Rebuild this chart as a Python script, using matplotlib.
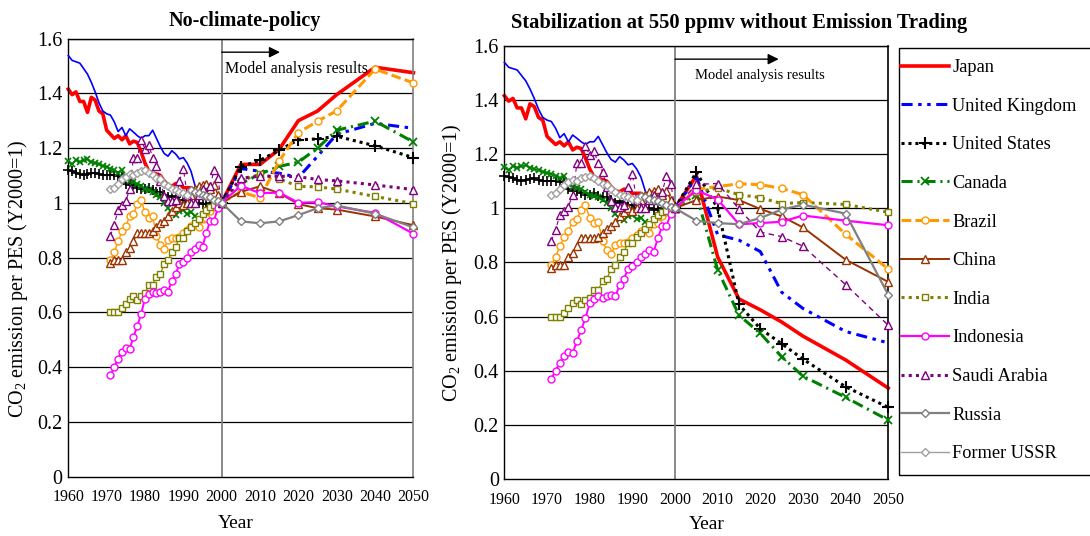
import matplotlib
matplotlib.use("Agg")
import matplotlib.pyplot as plt
from matplotlib.lines import Line2D
from matplotlib.patches import Rectangle

plt.rcParams['font.family'] = ['Liberation Serif', 'DejaVu Serif']
plt.rcParams['mathtext.fontset'] = 'custom'
plt.rcParams['mathtext.rm'] = 'Liberation Serif'
plt.rcParams['lines.scale_dashes'] = False

# ---------------- data ----------------
hist_years_long = list(range(1960, 2001))
hist_years_short = list(range(1971, 2001))
ussr_years = list(range(1971, 1992))
russia_years = list(range(1992, 2001))
proj_years = [2000, 2005, 2010, 2015, 2020, 2025, 2030, 2040, 2050]

countries = ["Japan", "United Kingdom", "United States", "Canada", "Brazil",
             "China", "India", "Indonesia", "Saudi Arabia", "Russia", "Former USSR"]

japan_hist = [1.415, 1.395, 1.405, 1.37, 1.37, 1.33, 1.385, 1.375, 1.335, 1.325,
              1.265, 1.25, 1.235, 1.245, 1.23, 1.245, 1.215, 1.225, 1.22, 1.185,
              1.145, 1.115, 1.11, 1.105, 1.10, 1.08, 1.065, 1.06, 1.07, 1.07,
              1.055, 1.055, 1.055, 1.045, 1.04, 1.035, 1.03, 1.02, 1.01, 1.005, 1.0]
uk_hist = [1.538, 1.52, 1.515, 1.51, 1.49, 1.47, 1.44, 1.405, 1.365, 1.335,
           1.325, 1.32, 1.295, 1.26, 1.275, 1.245, 1.27, 1.258, 1.245, 1.235,
           1.245, 1.245, 1.265, 1.235, 1.205, 1.18, 1.17, 1.19, 1.178, 1.16,
           1.165, 1.145, 1.115, 1.065, 1.025, 1.02, 1.015, 1.01, 1.0, 0.995, 1.0]
us_hist = [1.12, 1.115, 1.11, 1.105, 1.10, 1.105, 1.108, 1.11, 1.105, 1.10,
           1.10, 1.10, 1.10, 1.098, 1.095, 1.07, 1.065, 1.065, 1.055, 1.05,
           1.05, 1.055, 1.045, 1.04, 1.04, 1.03, 1.02, 1.025, 1.02, 1.01,
           1.01, 1.0, 1.0, 1.0, 1.0, 0.995, 0.995, 1.0, 1.0, 1.0, 1.0]
canada_hist = [1.152, 1.14, 1.155, 1.15, 1.155, 1.158, 1.15, 1.145, 1.14, 1.135,
               1.13, 1.125, 1.12, 1.11, 1.12, 1.09, 1.08, 1.075, 1.07, 1.06,
               1.05, 1.045, 1.04, 1.03, 1.02, 1.0, 0.98, 0.96, 0.955, 0.97,
               0.975, 0.96, 0.965, 0.95, 0.94, 0.955, 0.965, 0.975, 0.985, 0.995, 1.0]
brazil_hist = [0.79, 0.82, 0.86, 0.895, 0.915, 0.95, 0.96, 0.995, 1.01, 0.965,
               0.945, 0.95, 0.88, 0.845, 0.83, 0.865, 0.87, 0.87, 0.875, 0.89,
               0.90, 0.915, 0.92, 0.91, 0.94, 0.945, 0.97, 0.985, 0.99, 1.0]
china_hist = [0.78, 0.79, 0.79, 0.79, 0.82, 0.835, 0.86, 0.89, 0.89, 0.89,
              0.89, 0.895, 0.91, 0.925, 0.935, 0.95, 0.97, 0.985, 1.0, 0.99,
              1.0, 1.03, 1.05, 1.06, 1.065, 1.07, 1.05, 1.065, 1.03, 1.0]
india_hist = [0.6, 0.6, 0.6, 0.615, 0.63, 0.65, 0.66, 0.645, 0.66, 0.67,
              0.70, 0.70, 0.73, 0.74, 0.775, 0.79, 0.82, 0.84, 0.87, 0.87,
              0.895, 0.91, 0.925, 0.94, 0.96, 0.975, 0.985, 0.99, 1.0, 1.0]
indonesia_hist = [0.37, 0.40, 0.43, 0.455, 0.47, 0.465, 0.51, 0.55, 0.595, 0.65,
                  0.665, 0.675, 0.67, 0.675, 0.68, 0.675, 0.715, 0.74, 0.775, 0.785,
                  0.80, 0.82, 0.83, 0.845, 0.84, 0.89, 0.935, 0.935, 0.98, 1.0]
saudi_hist = [0.88, 0.92, 0.975, 0.99, 1.005, 1.05, 1.165, 1.165, 1.23, 1.195,
              1.21, 1.165, 1.135, 1.08, 1.025, 1.005, 1.005, 1.01, 1.08, 1.125,
              1.03, 1.0, 1.0, 1.03, 1.05, 1.03, 1.06, 1.12, 1.09, 1.0]
ussr_hist = [1.05, 1.055, 1.07, 1.085, 1.095, 1.105, 1.10, 1.11, 1.115, 1.12,
             1.11, 1.10, 1.09, 1.085, 1.07, 1.06, 1.05, 1.045, 1.04, 1.035, 1.03]
russia_hist = [1.045, 1.04, 1.035, 1.03, 1.025, 1.02, 1.01, 1.005, 1.0]

# model results, no climate policy
japan_ref = [1.0, 1.14, 1.14, 1.195, 1.30, 1.335, 1.395, 1.495, 1.475]
uk_ref = [1.0, 1.125, 1.115, 1.108, 1.092, 1.17, 1.25, 1.29, 1.272]
us_ref = [1.0, 1.132, 1.155, 1.192, 1.23, 1.233, 1.243, 1.208, 1.165]
canada_ref = [1.0, 1.07, 1.105, 1.133, 1.148, 1.2, 1.265, 1.298, 1.222]
brazil_ref = [1.0, 1.04, 1.018, 1.152, 1.256, 1.298, 1.336, 1.488, 1.438]
china_ref = [1.0, 1.04, 1.06, 1.035, 0.995, 0.98, 0.975, 0.95, 0.918]
india_ref = [1.0, 1.08, 1.105, 1.087, 1.06, 1.058, 1.05, 1.023, 0.997]
indonesia_ref = [1.0, 1.062, 1.035, 1.037, 1.0, 1.002, 0.987, 0.963, 0.887]
saudi_ref = [1.0, 1.09, 1.097, 1.097, 1.095, 1.085, 1.08, 1.065, 1.048]
russia_ref = [1.0, 0.932, 0.925, 0.932, 0.955, 0.98, 0.99, 0.96, 0.91]

# model results, 550 ppmv stabilization without emission trading
japan_550 = [1.0, 1.12, 0.82, 0.665, 0.625, 0.58, 0.528, 0.44, 0.336]
uk_550 = [1.0, 1.115, 0.902, 0.882, 0.84, 0.69, 0.63, 0.545, 0.503]
us_550 = [1.0, 1.133, 1.0, 0.645, 0.555, 0.50, 0.443, 0.341, 0.265]
canada_550 = [1.0, 1.05, 0.772, 0.605, 0.538, 0.452, 0.38, 0.302, 0.218]
brazil_550 = [1.0, 1.07, 1.08, 1.09, 1.087, 1.073, 1.05, 0.904, 0.775]
china_550 = [1.0, 1.03, 1.043, 1.03, 0.997, 0.97, 0.929, 0.81, 0.728]
india_550 = [1.0, 1.06, 1.074, 1.05, 1.039, 1.017, 1.021, 1.014, 0.985]
indonesia_550 = [1.0, 1.067, 1.032, 0.941, 0.945, 0.95, 0.973, 0.954, 0.937]
saudi_550 = [1.0, 1.088, 1.091, 0.997, 0.912, 0.895, 0.86, 0.718, 0.568]
russia_550 = [1.0, 0.954, 0.945, 0.941, 0.964, 0.995, 1.013, 0.98, 0.68]

yticks = [0, 0.2, 0.4, 0.6, 0.8, 1.0, 1.2, 1.4, 1.6]
ytick_labels = ["0", "0.2", "0.4", "0.6", "0.8", "1", "1.2", "1.4", "1.6"]
xticks = list(range(1960, 2051, 10))

# ---------------- styles ----------------
RED, BLUE, BLACK, GREEN = "#ff0000", "#0000ff", "#000000", "#008000"
ORANGE, BROWN, OLIVE = "#ff9900", "#993300", "#808000"
MAGENTA, PURPLE, GRAY, LGRAY = "#ff00ff", "#800080", "#808080", "#a0a0a0"

proj_style = {
    "Japan": dict(color=RED, lw=2.6, ls="-"),
    "United Kingdom": dict(color=BLUE, lw=2.2, ls=(0, (8, 4, 2.5, 4, 2.5, 4))),
    "United States": dict(color=BLACK, lw=2.2, ls=(0, (2.2, 2.8)), marker="+", ms=8, mew=1.5),
    "Canada": dict(color=GREEN, lw=2.2, ls=(0, (8, 3.5, 1.5, 3.5)), marker="x", ms=6, mew=1.3),
    "Brazil": dict(color=ORANGE, lw=2.2, ls=(0, (7, 3)), marker="o", ms=5, mfc="white", mew=1),
    "China": dict(color=BROWN, lw=1.4, ls="-", marker="^", ms=6, mfc="white", mew=1),
    "India": dict(color=OLIVE, lw=2.2, ls=(0, (2.2, 3)), marker="s", ms=5, mfc="white", mew=1),
    "Indonesia": dict(color=MAGENTA, lw=1.6, ls="-", marker="o", ms=5, mfc="white", mew=1),
    "Saudi Arabia": dict(color=PURPLE, lw=2.2, ls=(0, (2.2, 3)), marker="^", ms=6, mfc="white", mew=1),
    "Russia": dict(color=GRAY, lw=1.6, ls="-", marker="D", ms=4, mfc="white", mew=1),
    "Former USSR": dict(color=LGRAY, lw=1.0, ls="-", marker="D", ms=4, mfc="white", mew=1),
}

hist_series = [
    ("Japan", hist_years_long, japan_hist, dict(color=RED, lw=2.6)),
    ("United Kingdom", hist_years_long, uk_hist, dict(color=BLUE, lw=1.2)),
    ("United States", hist_years_long, us_hist, dict(color=BLACK, lw=1.0, marker="+", ms=7, mew=1.2)),
    ("Canada", hist_years_long, canada_hist, dict(color=GREEN, lw=1.0, marker="x", ms=5, mew=1.2)),
    ("Brazil", hist_years_short, brazil_hist, dict(color=ORANGE, lw=1.0, marker="o", ms=5, mfc="white", mew=1)),
    ("China", hist_years_short, china_hist, dict(color=BROWN, lw=1.0, marker="^", ms=6, mfc="white", mew=1)),
    ("India", hist_years_short, india_hist, dict(color=OLIVE, lw=0.8, marker="s", ms=5, mfc="white", mew=1)),
    ("Indonesia", hist_years_short, indonesia_hist, dict(color=MAGENTA, lw=1.4, marker="o", ms=5, mfc="white", mew=1)),
    ("Saudi Arabia", hist_years_short, saudi_hist, dict(color=PURPLE, lw=0.8, ls=(0, (3, 3)), marker="^", ms=6, mfc="white", mew=1)),
    ("Russia", russia_years, russia_hist, dict(color=GRAY, lw=1.2, marker="D", ms=4, mfc="white", mew=1)),
    ("Former USSR", ussr_years, ussr_hist, dict(color=LGRAY, lw=1.0, marker="D", ms=4, mfc="white", mew=1)),
]

ref_proj = {"Japan": japan_ref, "United Kingdom": uk_ref, "United States": us_ref,
            "Canada": canada_ref, "Brazil": brazil_ref, "China": china_ref,
            "India": india_ref, "Indonesia": indonesia_ref, "Saudi Arabia": saudi_ref,
            "Russia": russia_ref}
stab_proj = {"Japan": japan_550, "United Kingdom": uk_550, "United States": us_550,
             "Canada": canada_550, "Brazil": brazil_550, "China": china_550,
             "India": india_550, "Indonesia": indonesia_550, "Saudi Arabia": saudi_550,
             "Russia": russia_550}

W, H = 1090, 536
fig = plt.figure(figsize=(W / 100, H / 100), dpi=100)


def fig_rect(x0, y0, x1, y1):
    return [x0 / W, 1 - y1 / H, (x1 - x0) / W, (y1 - y0) / H]


ax1 = fig.add_axes(fig_rect(68.3, 38.5, 413.4, 476.5))
ax2 = fig.add_axes(fig_rect(504.4, 45.6, 888.3, 479.2))


def draw_panel(ax, proj, saudi_thin, right_spine_color, arrow_end, text_x, text_size):
    ax.set_xlim(1960, 2050)
    ax.set_ylim(0, 1.6)
    ax.set_yticks(yticks)
    ax.set_yticklabels(ytick_labels, fontsize=14.5)
    ax.set_xticks(xticks)
    ax.set_xticklabels([str(t) for t in xticks], fontsize=11.5)
    ax.tick_params(axis="both", length=0)
    ax.tick_params(axis="y", pad=4)
    ax.tick_params(axis="x", pad=9)
    for y in yticks[1:]:
        ax.axhline(y, color="black", lw=0.9, zorder=1)
    ax.axvline(2000, color=GRAY, lw=1.3, zorder=1)
    for s in ("left", "bottom", "top"):
        ax.spines[s].set_color("black")
        ax.spines[s].set_linewidth(1.0)
    ax.spines["right"].set_color(right_spine_color)
    ax.spines["right"].set_linewidth(1.2)

    z = 2
    for name, xs, ys, st in hist_series:
        ax.plot(xs, ys, zorder=z, clip_on=False, **st)
        if name in proj:
            st2 = dict(proj_style[name])
            if name == "Saudi Arabia" and saudi_thin:
                st2["lw"] = 1.0
                st2["ls"] = (0, (4, 3))
            ax.plot(proj_years, proj[name], zorder=z, clip_on=False, **st2)
        z += 1

    ax.annotate("", xy=(arrow_end, 1.55), xytext=(2000, 1.55),
                arrowprops=dict(arrowstyle="-|>", color="black", lw=1.0,
                                mutation_scale=16, shrinkA=0, shrinkB=0))
    ax.text(text_x, 1.488, "Model analysis results", fontsize=text_size,
            va="center", ha="left", zorder=20)


draw_panel(ax1, ref_proj, False, GRAY, 2015.2, 2000.9, 11.5)
draw_panel(ax2, stab_proj, True, "black", 2024.3, 2004.6, 10.5)

ylabel = "CO$_{\\mathrm{2}}$ emission per PES (Y2000=1)"
ax1.set_ylabel(ylabel, fontsize=14.5)
ax1.yaxis.set_label_coords(-0.112, 0.452)
ax2.set_ylabel(ylabel, fontsize=14.5)
ax2.yaxis.set_label_coords(-0.104, 0.499)
ax1.set_xlabel("Year", fontsize=14)
ax1.xaxis.set_label_coords(0.486, -0.088)
ax2.set_xlabel("Year", fontsize=14)
ax2.xaxis.set_label_coords(0.527, -0.086)

fig.text(244.5 / W, 1 - 21 / H, "No-climate-policy", fontsize=14.5,
         fontweight="bold", ha="center", va="center")
fig.text(739 / W, 1 - 23 / H, "Stabilization at 550 ppmv without Emission Trading",
         fontsize=14.8, fontweight="bold", ha="center", va="center")

# legend
handles = []
for name in countries:
    st = dict(proj_style[name])
    handles.append(Line2D([], [], **st))
fig.add_artist(Rectangle((899 / W, 1 - 475 / H), 250 / W, (475 - 48) / H,
                         transform=fig.transFigure, fill=False,
                         edgecolor="black", lw=1.0, clip_on=False))
fig.legend(handles, countries, loc="upper left",
           bbox_to_anchor=(901 / W, 1 - 59 / H), frameon=False,
           fontsize=13.2, handlelength=2.6, handletextpad=0.2,
           labelspacing=1.18, borderpad=0, borderaxespad=0, numpoints=1)

fig.savefig("out.png", dpi=100, facecolor="white")
